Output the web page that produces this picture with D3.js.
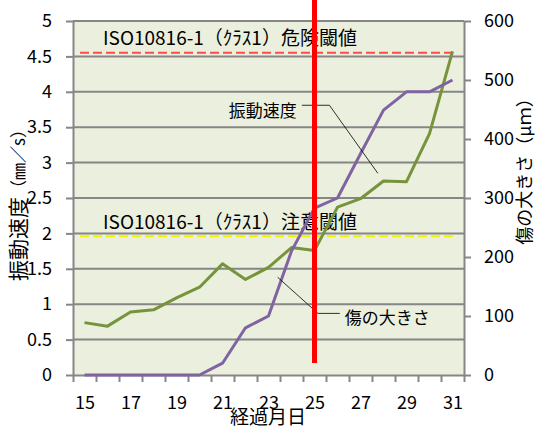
<!DOCTYPE html>
<html>
<head>
<meta charset="utf-8">
<script src="https://cdn.jsdelivr.net/npm/d3@7"></script>
<style>
  body { margin: 0; background: #fff; }
  text { font-family: "Noto Sans CJK JP", "Noto Sans", sans-serif; fill: #000; }
</style>
</head>
<body>
<svg id="chart" width="535" height="433"></svg>
<script>
// data
var days = [15, 16, 17, 18, 19, 20, 21, 22, 23, 24, 25, 26, 27, 28, 29, 30, 31]
var vibration = [0.74, 0.69, 0.89, 0.92, 1.09, 1.24, 1.57, 1.35, 1.52, 1.80, 1.76, 2.37, 2.49, 2.74, 2.73, 3.41, 4.57]
var flawSize = [0, 0, 0, 0, 0, 0, 20, 80, 100, 210, 283, 300, 375, 449, 480, 480, 500]
var dayLabels = [15, 17, 19, 21, 23, 25, 27, 29, 31]
var leftTicks = [0, 0.5, 1, 1.5, 2, 2.5, 3, 3.5, 4, 4.5, 5]
var rightTicks = [0, 100, 200, 300, 400, 500, 600]
var dangerLevel = 4.55
var cautionLevel = 1.96
var dangerLabel = 'ISO10816-1（ｸﾗｽ1）危険閾値'
var cautionLabel = 'ISO10816-1（ｸﾗｽ1）注意閾値'
var markerDay = 25
var markerSpan = [0.17, 5.3]   // mm/s, on left axis

var svg = d3.select('#chart')
var pLeft = 73, pRight = 464, pTop = 21, pBottom = 375

var x = d3.scaleLinear().domain([14.5, 31.5]).range([pLeft, pRight])
var yL = d3.scaleLinear().domain([0, 5]).range([pBottom, pTop])
var yR = d3.scaleLinear().domain([0, 600]).range([pBottom, pTop])

var gray = '#868686'

svg.append('rect')
   .attr('x', pLeft).attr('y', pTop)
   .attr('width', pRight - pLeft).attr('height', pBottom - pTop)
   .attr('fill', '#ebefdd')

svg.append('g').selectAll('line')
   .data(leftTicks.filter(function (d) { return d > 0 }))
   .join('line')
   .attr('x1', pLeft).attr('x2', pRight)
   .attr('y1', yL).attr('y2', yL)
   .attr('stroke', gray).attr('stroke-width', 2)

// axes
function styleAxis(g) {
  g.selectAll('.domain').attr('stroke', gray).attr('stroke-width', 2)
  g.selectAll('.tick line').attr('stroke', gray).attr('stroke-width', 2)
  g.selectAll('text').style('font-size', '18px').attr('fill', '#000')
    .style('font-family', '"Noto Sans CJK JP", sans-serif')
}

svg.append('g')
   .attr('transform', 'translate(' + pLeft + ',0)')
   .call(d3.axisLeft(yL).tickValues(leftTicks).tickSize(7).tickSizeOuter(0).tickPadding(14).tickFormat(String))
   .call(styleAxis)

svg.append('g')
   .attr('transform', 'translate(' + pRight + ',0)')
   .call(d3.axisRight(yR).tickValues(rightTicks).tickSize(7).tickSizeOuter(0).tickPadding(13).tickFormat(String))
   .call(styleAxis)

svg.append('g')
   .attr('transform', 'translate(0,' + pBottom + ')')
   .call(d3.axisBottom(x).tickValues(days.map(function (d) { return d - 0.5 }).concat([31.5]))
         .tickSize(7).tickSizeOuter(0).tickFormat(''))
   .call(styleAxis)

svg.append('g')
   .attr('transform', 'translate(0,' + pBottom + ')')
   .call(d3.axisBottom(x).tickValues(dayLabels).tickSize(0).tickPadding(21).tickFormat(String))
   .call(function (g) { g.select('.domain').remove() })
   .call(styleAxis)

// thresholds
function threshold(level, color, label) {
  svg.append('line')
     .attr('x1', pLeft + 7).attr('x2', pRight - 9)
     .attr('y1', yL(level)).attr('y2', yL(level))
     .attr('stroke', color).attr('stroke-width', 2)
     .attr('stroke-dasharray', '9,4')
  svg.append('text')
     .attr('x', 103).attr('y', yL(level) - 16)
     .attr('dominant-baseline', 'central')
     .style('font-size', '19px')
     .text(label)
}
threshold(dangerLevel, '#ff4b4b', dangerLabel)
threshold(cautionLevel, '#f2f200', cautionLabel)

// series
var vibLine = d3.line()
    .x(function (d, i) { return x(days[i]) })
    .y(function (d) { return yL(d) })
var flawLine = d3.line()
    .x(function (d, i) { return x(days[i]) })
    .y(function (d) { return yR(d) })

svg.append('path').datum(vibration)
   .attr('d', vibLine)
   .attr('fill', 'none').attr('stroke', '#77933c').attr('stroke-width', 3)
   .attr('stroke-linejoin', 'round')

svg.append('path').datum(flawSize)
   .attr('d', flawLine)
   .attr('fill', 'none').attr('stroke', '#8064a2').attr('stroke-width', 3)
   .attr('stroke-linejoin', 'round')

// callouts, in day / mm/s coordinates
var callouts = [
  { text: '振動速度', pts: [[24.45, 3.81], [25.65, 3.81], [27.75, 2.85]], anchor: 'end', dy: 4 },
  { text: '傷の大きさ', pts: [[26.1, 0.87], [25.15, 0.87], [23.4, 1.38]], anchor: 'start', dy: 3 }
]
callouts.forEach(function (c) {
  svg.append('path')
     .attr('d', d3.line().x(function (p) { return x(p[0]) }).y(function (p) { return yL(p[1]) })(c.pts))
     .attr('fill', 'none').attr('stroke', '#000').attr('stroke-width', 0.8)
  svg.append('text')
     .attr('x', x(c.pts[0][0]) + (c.anchor == 'end' ? -5 : 5))
     .attr('y', yL(c.pts[0][1]) + c.dy)
     .attr('text-anchor', c.anchor)
     .attr('dominant-baseline', 'central')
     .style('font-size', '17px')
     .text(c.text)
})

// marker for day 25
svg.append('line')
   .attr('x1', x(markerDay)).attr('x2', x(markerDay))
   .attr('y1', yL(markerSpan[1])).attr('y2', yL(markerSpan[0]))
   .attr('stroke', '#ff0000').attr('stroke-width', 5)

// axis titles
var lt = svg.append('text')
   .attr('transform', 'translate(17,201) rotate(-90)')
   .attr('text-anchor', 'middle')
   .attr('dominant-baseline', 'central')
lt.append('tspan').style('font-size', '21px').text('振動速度')
lt.append('tspan').style('font-size', '17px').text('（㎜／s）')

svg.append('text')
   .attr('transform', 'translate(523,167) rotate(-90)')
   .attr('text-anchor', 'middle')
   .attr('dominant-baseline', 'central')
   .style('font-size', '18px')
   .text('傷の大きさ（μｍ）')

svg.append('text')
   .attr('x', 268).attr('y', 415)
   .attr('text-anchor', 'middle')
   .attr('dominant-baseline', 'central')
   .style('font-size', '19px')
   .text('経過月日')
</script>
</body>
</html>
